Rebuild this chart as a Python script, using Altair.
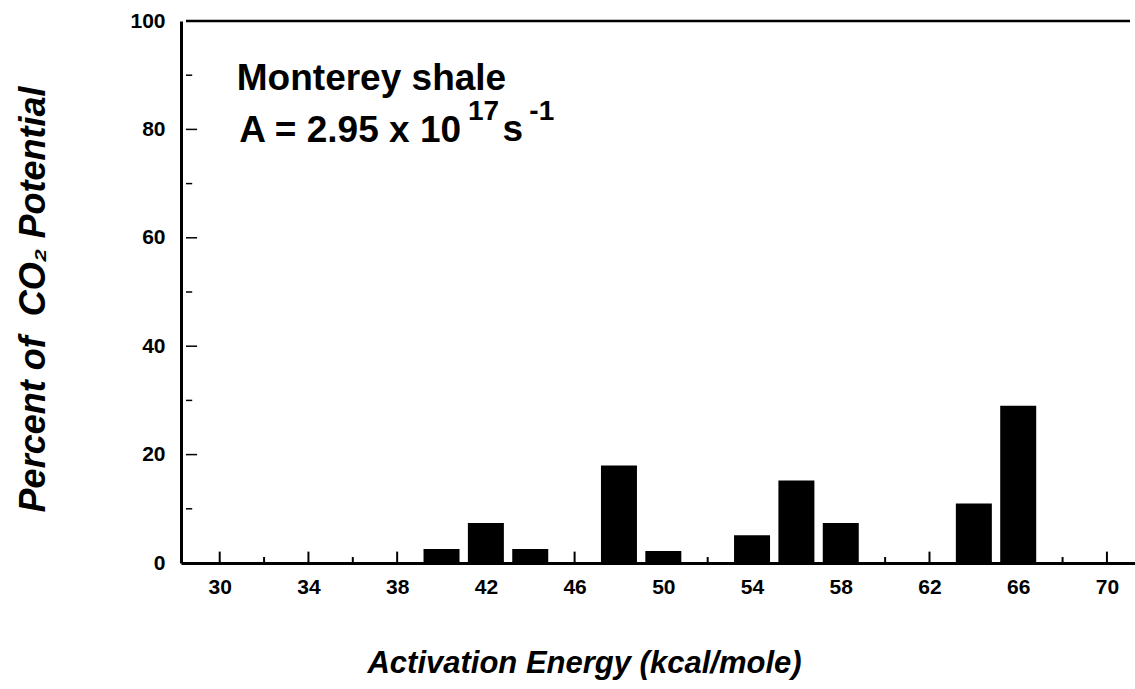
import altair as alt
import pandas as pd

# Data
energy = [40, 42, 44, 48, 50, 54, 56, 58, 64, 66]
percent = [2.6, 7.4, 2.6, 18.0, 2.2, 5.1, 15.2, 7.4, 11.0, 29.0]

x_labels = [30, 34, 38, 42, 46, 50, 54, 58, 62, 66, 70]
x_minor = [32, 36, 40, 44, 48, 52, 56, 60, 64, 68]
y_labels = [0, 20, 40, 60, 80, 100]
y_minor = [10, 30, 50, 70, 90]

# annotation texts (anchored in data coordinates)
big_text = ["Monterey shale", "A = 2.95 x 10", "s"]
big_x = [30.77, 30.88, 42.75]
big_y = [87.3, 77.7, 77.86]
sup_text = ["17", "-1"]
sup_x = [41.19, 43.96]
sup_y = [81.7, 81.7]

XMIN, XMAX = 28.48, 71.04
FONT = "Liberation Sans"

bars_df = pd.DataFrame({"E": energy, "P": percent})
xt_df = pd.DataFrame({"E": x_labels + x_minor,
                      "y0": [0.0] * (len(x_labels) + len(x_minor)),
                      "len": [2.1] * len(x_labels) + [1.1] * len(x_minor)})
yt_df = pd.DataFrame({"P": y_labels[1:] + y_minor,
                      "x0": [XMIN] * (len(y_labels) - 1 + len(y_minor)),
                      "x1": [XMIN + 0.5] * (len(y_labels) - 1) + [XMIN + 0.28] * len(y_minor)})
top_df = pd.DataFrame({"x0": [XMIN], "x1": [XMAX], "P": [100]})
big_df = pd.DataFrame({"t": big_text, "E": big_x, "P": big_y})
sup_df = pd.DataFrame({"t": sup_text, "E": sup_x, "P": sup_y})

xscale = alt.Scale(domain=[XMIN, XMAX], nice=False, zero=False)
yscale = alt.Scale(domain=[0, 100], nice=False)

xaxis = alt.Axis(values=x_labels, ticks=False, grid=False, labelFontSize=21,
                 labelFontWeight="bold", labelFont=FONT, labelColor="black",
                 labelPadding=13, domainWidth=3, domainColor="black",
                 title="Activation Energy (kcal/mole)", titleFont=FONT,
                 titleFontSize=31, titleFontWeight="bold", titleFontStyle="italic",
                 titleColor="black", titleX=403, titleY=100,
                 titleAlign="center", titleBaseline="middle")
yaxis = alt.Axis(values=y_labels, ticks=False, grid=False, labelFontSize=21,
                 labelFontWeight="bold", labelFont=FONT, labelColor="black",
                 labelPadding=16, domainWidth=3, domainColor="black",
                 title="Percent of\u00a0 CO\u2082 Potential", titleFont=FONT,
                 titleFontSize=36, titleFontWeight="bold", titleFontStyle="italic",
                 titleColor="black", titleX=-148, titleY=278, titleAngle=270,
                 titleAlign="center", titleBaseline="middle")

bars = alt.Chart(bars_df).mark_bar(size=36, color="black").encode(
    x=alt.X("E:Q", scale=xscale, axis=xaxis),
    y=alt.Y("P:Q", scale=yscale, axis=yaxis),
)

xticks = alt.Chart(xt_df).mark_rule(color="black", strokeWidth=2).encode(
    x=alt.X("E:Q", scale=xscale),
    y=alt.Y("y0:Q", scale=yscale),
    y2="len:Q",
)

yticks = alt.Chart(yt_df).mark_rule(color="black", strokeWidth=1.5).encode(
    x=alt.X("x0:Q", scale=xscale),
    x2="x1:Q",
    y=alt.Y("P:Q", scale=yscale),
)

top = alt.Chart(top_df).mark_rule(color="black", strokeWidth=2.5).encode(
    x=alt.X("x0:Q", scale=xscale),
    x2="x1:Q",
    y=alt.Y("P:Q", scale=yscale),
)

big = alt.Chart(big_df).mark_text(
    align="left", baseline="alphabetic", font=FONT, fontSize=37,
    fontWeight="bold", color="black"
).encode(x=alt.X("E:Q", scale=xscale), y=alt.Y("P:Q", scale=yscale), text="t:N")

sup = alt.Chart(sup_df).mark_text(
    align="left", baseline="alphabetic", font=FONT, fontSize=28,
    fontWeight="bold", color="black"
).encode(x=alt.X("E:Q", scale=xscale), y=alt.Y("P:Q", scale=yscale), text="t:N")

chart = alt.layer(bars, xticks, yticks, top, big, sup).properties(
    width=954, height=542,
    autosize=alt.AutoSizeParams(type="none"),
    padding={"left": 181, "top": 21, "right": 0, "bottom": 126},
    background="white",
).configure_view(stroke=None)

chart.save("out.html", embed_options={"renderer": "svg", "actions": False})
